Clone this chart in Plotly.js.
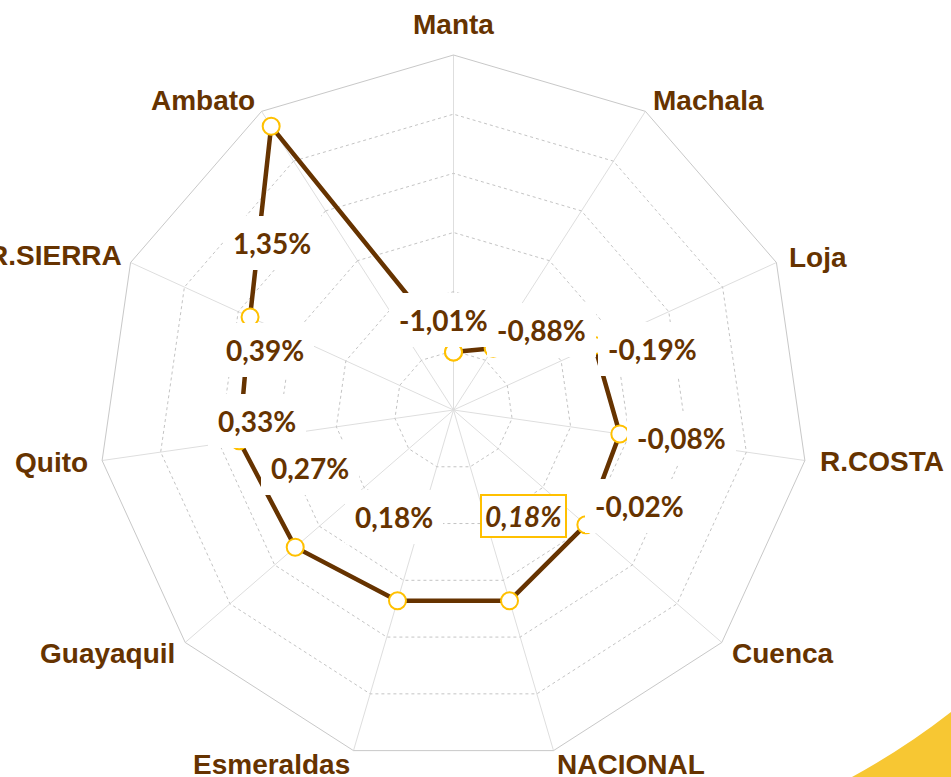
<!DOCTYPE html>
<html>
<head>
<meta charset="utf-8">
<script src="https://cdn.plot.ly/plotly-3.0.1.min.js"></script>
<style>html,body{margin:0;padding:0;background:#fff;overflow:hidden;}#chart{width:951px;height:777px;}</style>
</head>
<body>
<div id="chart"></div>
<script>
// ---- data ----
var categories = ["Manta", "Machala", "Loja", "R.COSTA", "Cuenca", "NACIONAL", "Esmeraldas", "Guayaquil", "Quito", "R.SIERRA", "Ambato"];
var values = [-1.01, -0.88, -0.19, -0.08, -0.02, 0.18, 0.18, 0.27, 0.33, 0.39, 1.35];
var highlighted = "NACIONAL";

// ---- layout helpers (styles / positions only) ----
var W = 951, H = 777;
var BROWN = "rgb(102,51,0)";
var GOLD = "#FFC000";
// value-label box centres (px), same order as categories
var labelPx = [[443,320],[541,330],[652,349],[681,438],[639,506],[523,516],[394,517],[310,468],[257,421],[265,350],[272,243]];
// category-label centres (px), same order as categories
var catPx = [[453,25],[708,100],[818,257],[882,461],[783,653],[631,764],[271,764],[107,653],[51,463],[55,255],[203,100]];

function fmt(v){ return v.toFixed(2).replace(".", ",") + "%"; }

var closedTheta = categories.concat([categories[0]]);
var closedR = values.concat([values[0]]);

var trace = {
  type: "scatterpolar",
  mode: "lines+markers",
  theta: closedTheta,
  r: closedR,
  line: {color: BROWN, width: 4.5},
  marker: {symbol: "circle", size: 17, color: "#ffffff", line: {color: GOLD, width: 2}},
  cliponaxis: false,
  hoverinfo: "skip",
  showlegend: false
};

var annotations = values.map(function(v, i){
  var isHi = categories[i] === highlighted;
  return {
    xref: "paper", yref: "paper",
    x: labelPx[i][0] / W, y: 1 - labelPx[i][1] / H,
    xanchor: "center", yanchor: "middle",
    text: isHi ? "<i>" + fmt(v) + "</i>" : fmt(v),
    showarrow: false,
    font: {family: "Lato, 'Open Sans', sans-serif", size: 28, color: BROWN, weight: "bold"},
    bgcolor: "#ffffff",
    bordercolor: isHi ? GOLD : "rgba(0,0,0,0)",
    borderwidth: isHi ? 2 : 0,
    borderpad: isHi ? 3 : 10
  };
}).concat(categories.map(function(c, i){
  return {
    xref: "paper", yref: "paper",
    x: catPx[i][0] / W, y: 1 - catPx[i][1] / H,
    xanchor: "center", yanchor: "middle",
    text: c, showarrow: false,
    font: {family: "'Liberation Sans', Arial, sans-serif", size: 28, color: BROWN, weight: "bold"}
  };
}));

function px(x){ return x / W; }
function py(y){ return 1 - y / H; }
var swoosh = "M " + px(852) + "," + py(777) +
  " Q " + px(905) + "," + py(748) + " " + px(951) + "," + py(712) +
  " L " + px(951) + "," + py(777) + " Z";

var layout = {
  width: W, height: H,
  margin: {l: 0, r: 0, t: 0, b: 0},
  paper_bgcolor: "#ffffff",
  showlegend: false,
  annotations: annotations,
  shapes: [{type: "path", xref: "paper", yref: "paper", path: swoosh, fillcolor: "#F7C733", line: {width: 0}, layer: "below"}],
  polar: {
    domain: {x: [98.5 / W, 808.5 / W], y: [1 - 765 / H, 1 - 55 / H]},
    bgcolor: "rgba(0,0,0,0)",
    gridshape: "linear",
    radialaxis: {
      range: [-1.5, 1.5], tick0: -1.5, dtick: 0.5,
      showticklabels: false, ticks: "", showline: false,
      gridcolor: "#c4c4c4", griddash: "dot", gridwidth: 1
    },
    angularaxis: {
      rotation: 90, direction: "clockwise",
      showline: true, linecolor: "#c8c8c8", linewidth: 1,
      gridcolor: "#dedede", gridwidth: 1,
      ticks: "", showticklabels: false
    }
  }
};

Plotly.newPlot("chart", [trace], layout, {displayModeBar: false, staticPlot: true}).then(function(){
  // Plotly's polygon range test wrongly hides these in-range markers; show them again.
  document.querySelectorAll("#chart .scatterlayer .point").forEach(function(p){ p.removeAttribute("display"); });
});
</script>
</body>
</html>
